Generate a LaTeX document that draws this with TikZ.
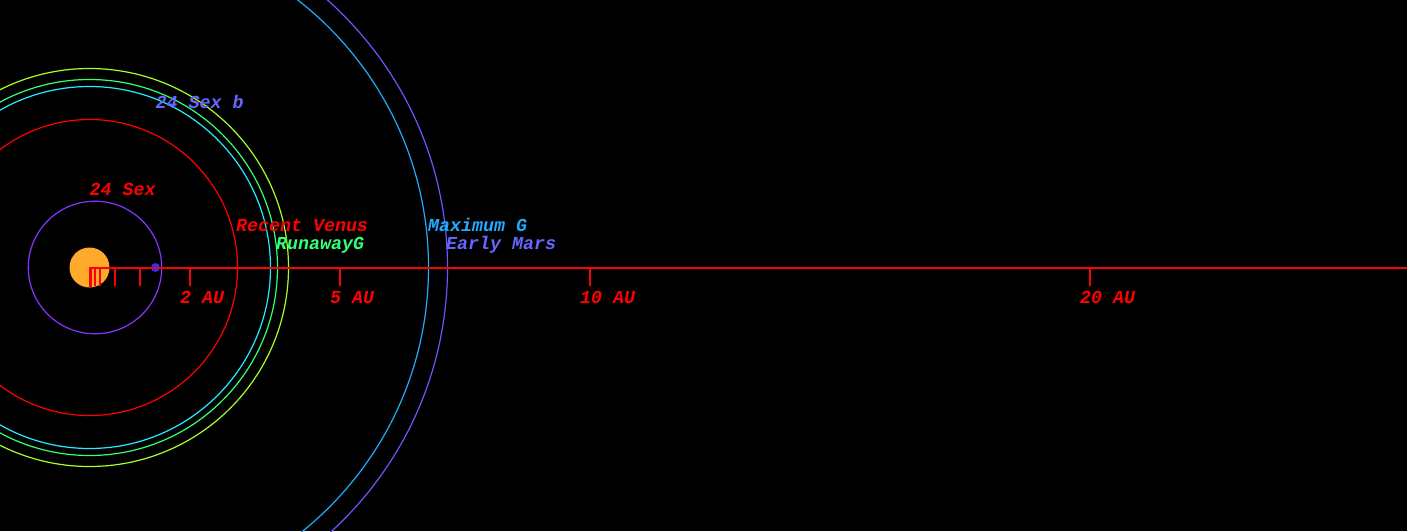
\documentclass[tikz,border=0pt]{standalone}
\usepackage{fontspec}
\setmonofont{Liberation Mono}
\definecolor{starorange}{HTML}{FFAA2A}
\definecolor{hzred}{HTML}{FF0000}
\definecolor{hzcyan}{HTML}{22EEFF}
\definecolor{hzgreen}{HTML}{33FF77}
\definecolor{hzyellow}{HTML}{AAFF22}
\definecolor{hzlblue}{HTML}{22AAFF}
\definecolor{hzviolet}{HTML}{6658FF}
\definecolor{orbitpurple}{HTML}{8833FF}
\definecolor{planetblue}{HTML}{2233FF}
\definecolor{lblviolet}{HTML}{6666FF}
\tikzset{
  ring/.style={line width=1.2pt},
  lbl/.style={inner sep=0pt, anchor=base west, font=\fontsize{18.3}{18}\selectfont\ttfamily\bfseries\itshape},
  tick/.style={draw=hzred, line width=2pt},
}
\begin{document}
\begin{tikzpicture}[x=1pt,y=-1pt]
\fill[black] (0,0) rectangle (1407,531);
\useasboundingbox (0,0) rectangle (1407,531);
\begin{scope}
\clip (0,0) rectangle (1407,531);
\coordinate (c) at (89.5,267.5);
% habitable zone boundaries
\draw[ring, hzred] (c) circle[radius=148];
\draw[ring, hzcyan] (c) circle[radius=181];
\draw[ring, hzgreen] (c) circle[radius=188];
\draw[ring, hzyellow] (c) circle[radius=199];
\draw[ring, hzlblue] (c) circle[radius=339];
\draw[ring, hzviolet] (c) circle[radius=358];
% planet orbit
\draw[ring, orbitpurple] (95,267.5) ellipse[x radius=66.7, y radius=66.3];
% star
\node[circle, fill=starorange, minimum size=40pt, inner sep=0pt] (star) at (c) {};
% planet
\node[circle, fill=planetblue, minimum size=9pt, inner sep=0pt] (planet) at (155.5,267.5) {};
% axis
\coordinate (axend) at (1407,267.5);
\draw[hzred, line width=2pt] (star.center) -- (axend);
% ticks
\fill[hzred] (89,267) rectangle (92,286.5);
\foreach \x in {95,99.5,114.5,139.5,189.5,339.5,589.5,1089.5}
  \draw[tick] (\x,267.5) -- (\x,286);
\end{scope}
% axis labels
\node[lbl, text=hzred] (l2) at (180,303) {2 AU};
\node[lbl, text=hzred] (l5) at (330,303) {5 AU};
\node[lbl, text=hzred] (l10) at (580,303) {10 AU};
\node[lbl, text=hzred] (l20) at (1080,303) {20 AU};
% zone labels
\node[lbl, text=hzred] (rv) at (236,231) {Recent Venus};
\node[lbl, text=hzgreen] (rg) at (276,249) {RunawayG};
\node[lbl, text=hzlblue] (mg) at (428,231) {Maximum G};
\node[lbl, text=lblviolet] (em) at (446,249) {Early Mars};
% star and planet names
\node[lbl, text=lblviolet] (pb) at (155.5,108.5) {24 Sex b};
\node[lbl, text=hzred] (sx) at (89.5,195) {24 Sex};
\end{tikzpicture}
\end{document}
